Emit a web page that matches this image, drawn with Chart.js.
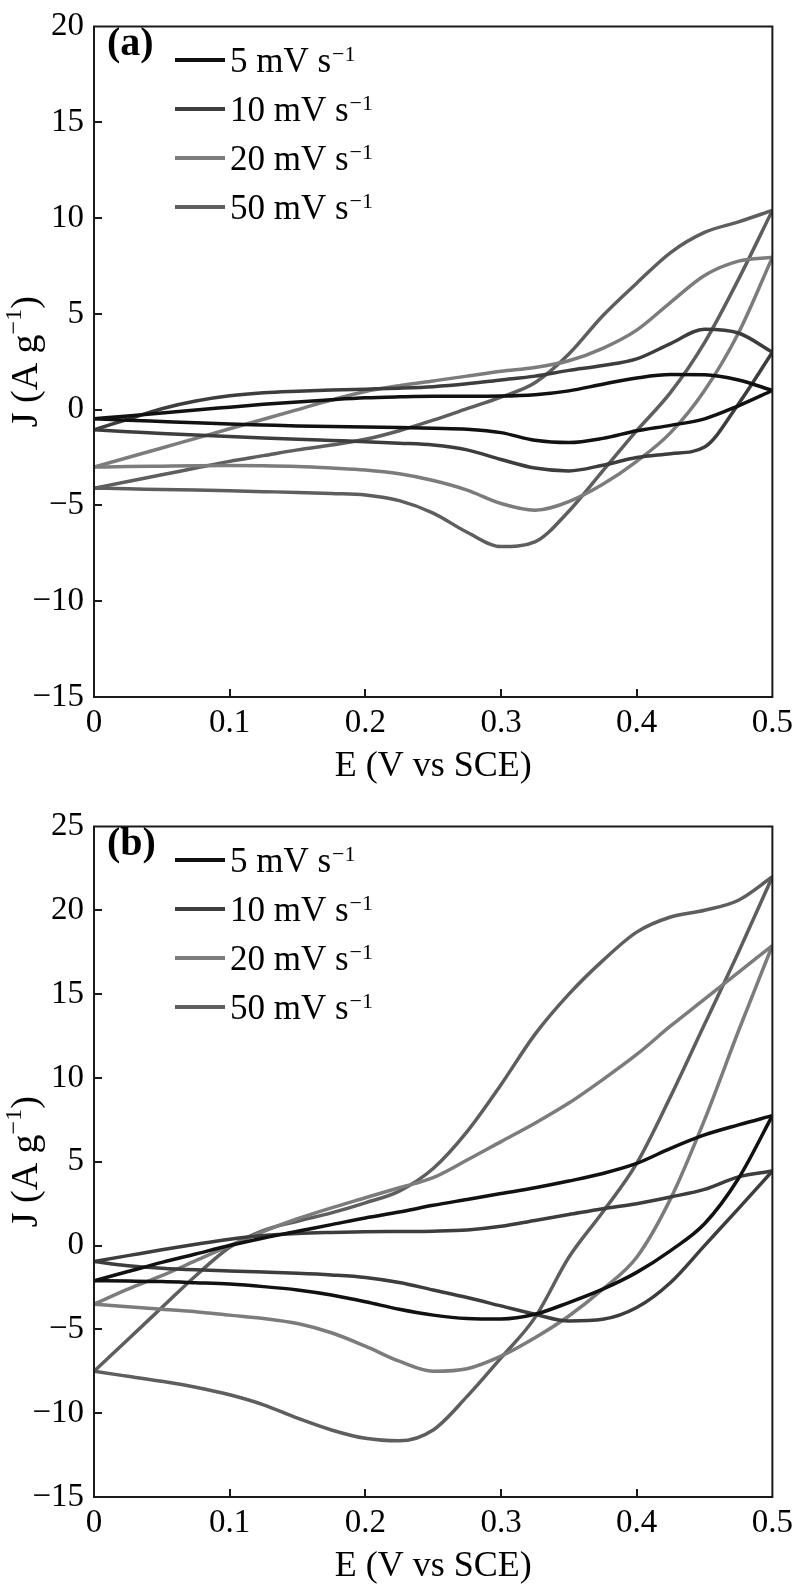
<!DOCTYPE html>
<html>
<head>
<meta charset="utf-8">
<script src="https://cdn.jsdelivr.net/npm/chart.js@4.4.1/dist/chart.umd.min.js"></script>
<style>
  body { margin: 0; background: #fff; }
  canvas { display: block; }
</style>
</head>
<body>
<canvas id="chart-a" width="800" height="800"></canvas>
<canvas id="chart-b" width="800" height="788"></canvas>
<script>
// potential grid (V vs SCE), shared by every branch
const potential = [0, 0.025, 0.05, 0.075, 0.1, 0.125, 0.15, 0.175, 0.2, 0.225, 0.25,
                   0.275, 0.3, 0.325, 0.35, 0.375, 0.4, 0.425, 0.45, 0.475, 0.5];

const scanRates = ["5", "10", "20", "50"];
const lineColors = ["#111111", "#3d3d3d", "#7c7c7c", "#5e5e5e"];

// panel (a) current density, A/g : anodic (forward) and cathodic (reverse) sweeps
const a5Anodic    = [-0.47, -0.33, -0.18, -0.02, 0.13, 0.28, 0.40, 0.52, 0.62, 0.67, 0.70, 0.70, 0.71, 0.78, 0.98, 1.33, 1.65, 1.83, 1.82, 1.55, 1.0];
const a5Cathodic  = [-0.47, -0.55, -0.62, -0.69, -0.75, -0.80, -0.85, -0.88, -0.90, -0.93, -0.97, -1.02, -1.2, -1.6, -1.72, -1.5, -1.1, -0.82, -0.48, 0.2, 1.0];
const a10Anodic   = [-1.05, -0.5, 0.05, 0.45, 0.72, 0.88, 0.96, 1.02, 1.07, 1.12, 1.2, 1.35, 1.55, 1.75, 2.05, 2.3, 2.65, 3.45, 4.2, 4.0, 3.0];
const a10Cathodic = [-1.05, -1.15, -1.25, -1.33, -1.4, -1.48, -1.55, -1.61, -1.67, -1.75, -1.85, -2.1, -2.6, -3.05, -3.2, -2.9, -2.5, -2.3, -1.95, 0.3, 3.0];
const a20Anodic   = [-3.0, -2.5, -2.0, -1.5, -1.0, -0.5, 0.0, 0.5, 0.95, 1.25, 1.5, 1.75, 2.0, 2.2, 2.55, 3.2, 4.15, 5.6, 7.0, 7.75, 7.95];
const a20Cathodic = [-3.0, -2.97, -2.95, -2.93, -2.92, -2.93, -2.97, -3.05, -3.15, -3.35, -3.7, -4.2, -4.9, -5.25, -4.8, -3.9, -2.7, -1.2, 1.0, 4.0, 7.95];
const a50Anodic   = [-4.1, -3.75, -3.4, -3.05, -2.7, -2.4, -2.1, -1.85, -1.55, -1.1, -0.55, 0.05, 0.65, 1.4, 2.9, 4.9, 6.6, 8.2, 9.25, 9.8, 10.4];
const a50Cathodic = [-4.1, -4.13, -4.17, -4.2, -4.24, -4.28, -4.32, -4.38, -4.45, -4.75, -5.4, -6.4, -7.15, -6.9, -5.3, -3.2, -1.1, 0.9, 3.5, 6.8, 10.4];

// panel (b)
const b5Anodic    = [-2.1, -1.55, -1.0, -0.5, 0.0, 0.45, 0.85, 1.25, 1.65, 2.0, 2.4, 2.75, 3.1, 3.45, 3.85, 4.3, 4.9, 5.8, 6.6, 7.2, 7.75];
const b5Cathodic  = [-2.1, -2.12, -2.15, -2.22, -2.3, -2.45, -2.65, -2.95, -3.35, -3.8, -4.15, -4.35, -4.38, -4.1, -3.4, -2.6, -1.6, -0.3, 1.3, 4.0, 7.75];
const b10Anodic   = [-0.95, -0.6, -0.25, 0.08, 0.38, 0.6, 0.72, 0.78, 0.82, 0.84, 0.86, 0.93, 1.15, 1.5, 1.85, 2.2, 2.5, 2.9, 3.35, 4.1, 4.45];
const b10Cathodic = [-0.95, -1.2, -1.35, -1.45, -1.52, -1.58, -1.65, -1.75, -1.9, -2.2, -2.65, -3.1, -3.6, -4.1, -4.5, -4.4, -3.7, -2.2, 0.0, 2.2, 4.45];
const b20Anodic   = [-3.5, -2.6, -1.8, -0.9, 0.0, 0.85, 1.6, 2.25, 2.85, 3.45, 4.05, 5.1, 6.2, 7.3, 8.5, 9.9, 11.4, 13.1, 14.7, 16.3, 17.9];
const b20Cathodic = [-3.5, -3.65, -3.8, -3.95, -4.15, -4.35, -4.65, -5.2, -6.0, -6.9, -7.5, -7.35, -6.6, -5.5, -4.2, -2.6, -0.7, 2.8, 7.5, 12.8, 17.9];
const b50Anodic   = [-7.5, -5.6, -3.7, -1.8, -0.1, 0.9, 1.45, 1.95, 2.55, 3.25, 4.6, 6.8, 9.6, 12.6, 15.0, 17.0, 18.7, 19.6, 20.0, 20.6, 22.0];
const b50Cathodic = [-7.5, -7.8, -8.1, -8.45, -8.9, -9.5, -10.3, -11.0, -11.5, -11.65, -11.0, -9.0, -6.7, -4.3, -0.7, 2.0, 4.9, 8.9, 13.2, 17.5, 22.0];

const serif = "'Liberation Serif', 'Times New Roman', serif";

function toPoints(values) {
    return values.map((j, i) => ({ x: potential[i], y: j }));
}

function minusSign(v) {
    return String(v).replace("-", "\u2212");
}

// frame, inward ticks, legend, panel letter and y title
const decorPlugin = {
    id: "decor",
    afterDraw(chart) {
        const ctx = chart.ctx;
        const area = chart.chartArea;
        const xs = chart.scales.x;
        const ys = chart.scales.y;
        const opts = chart.options.plugins.decor;

        ctx.save();
        ctx.strokeStyle = "#1a1a1a";
        ctx.lineWidth = 2;
        ctx.strokeRect(area.left, area.top, area.right - area.left, area.bottom - area.top);

        ctx.beginPath();
        xs.ticks.forEach((t) => {
            if (t.value <= xs.min + 1e-9 || t.value >= xs.max - 1e-9) return;
            const px = Math.round(xs.getPixelForValue(t.value));
            ctx.moveTo(px, area.bottom);
            ctx.lineTo(px, area.bottom - 8);
        });
        ys.ticks.forEach((t) => {
            if (t.value <= ys.min || t.value >= ys.max) return;
            const py = Math.round(ys.getPixelForValue(t.value));
            ctx.moveTo(area.left, py);
            ctx.lineTo(area.left + 8, py);
        });
        ctx.stroke();

        // panel letter
        ctx.fillStyle = "#000";
        ctx.textBaseline = "alphabetic";
        ctx.textAlign = "left";
        ctx.font = "bold 40px " + serif;
        ctx.fillText(opts.letter, 107, 55);

        // legend
        scanRates.forEach((rate, i) => {
            const y = 60 + i * 49;
            ctx.strokeStyle = lineColors[i];
            ctx.lineWidth = 4;
            ctx.beginPath();
            ctx.moveTo(175, y);
            ctx.lineTo(225, y);
            ctx.stroke();
            ctx.font = "35px " + serif;
            const label = rate + " mV s";
            ctx.fillText(label, 230, y + 12);
            const w = ctx.measureText(label).width;
            ctx.font = "22px " + serif;
            ctx.fillText("\u22121", 230 + w + 1, y + 1);
        });

        // y axis title with superscript
        ctx.translate(27, (area.top + area.bottom) / 2);
        ctx.rotate(-Math.PI / 2);
        ctx.textBaseline = "middle";
        const big = "38px " + serif;
        const small = "24px " + serif;
        ctx.font = big;
        const p1 = "J (A g";
        const w1 = ctx.measureText(p1).width;
        const w3 = ctx.measureText(")").width;
        ctx.font = small;
        const w2 = ctx.measureText("\u22121").width;
        let x = -(w1 + w2 + w3) / 2;
        ctx.font = big;
        ctx.fillText(p1, x, 0);
        x += w1;
        ctx.font = small;
        ctx.fillText("\u22121", x, -12);
        x += w2;
        ctx.font = big;
        ctx.fillText(")", x, 0);
        ctx.restore();
    },
};

function makeChart(canvasId, letter, series, yMax, titlePad) {
    const canvas = document.getElementById(canvasId);
    const datasets = [];
    series.forEach((branches, i) => {
        branches.forEach((values) => {
            datasets.push({
                label: scanRates[i] + " mV s-1",
                data: toPoints(values),
                borderColor: lineColors[i],
                borderWidth: 3.5,
                pointRadius: 0,
                fill: false,
                cubicInterpolationMode: "monotone",
            });
        });
    });

    return new Chart(canvas, {
        type: "line",
        data: { datasets: datasets },
        options: {
            responsive: false,
            animation: false,
            devicePixelRatio: 1,
            layout: { padding: { left: 0, right: 26, top: 17, bottom: 0 } },
            plugins: {
                legend: { display: false },
                tooltip: { enabled: false },
                decor: { letter: letter },
            },
            scales: {
                x: {
                    type: "linear",
                    min: 0,
                    max: 0.5,
                    grid: { display: false, drawTicks: false },
                    border: { display: false },
                    ticks: {
                        stepSize: 0.1,
                        padding: 7,
                        color: "#000",
                        font: { family: serif, size: 33 },
                        maxRotation: 0,
                        callback: (v) => (v === 0 ? "0" : Number(v).toFixed(1)),
                    },
                    title: {
                        display: true,
                        text: "E (V vs SCE)",
                        color: "#000",
                        font: { family: serif, size: 36 },
                        padding: { top: 0, bottom: titlePad },
                    },
                    afterFit: (s) => { s.height = canvas.height - 17 - 680; },
                },
                y: {
                    min: -15,
                    max: yMax,
                    grid: { display: false, drawTicks: false },
                    border: { display: false },
                    ticks: {
                        stepSize: 5,
                        padding: 10,
                        color: "#000",
                        font: { family: serif, size: 33, lineHeight: 1 },
                        callback: (v) => minusSign(v),
                    },
                    afterFit: (s) => { s.width = 94; },
                },
            },
        },
        plugins: [decorPlugin],
    });
}

makeChart("chart-a", "(a)", [
    [a5Anodic, a5Cathodic],
    [a10Anodic, a10Cathodic],
    [a20Anodic, a20Cathodic],
    [a50Anodic, a50Cathodic],
], 20, 12);

makeChart("chart-b", "(b)", [
    [b5Anodic, b5Cathodic],
    [b10Anodic, b10Cathodic],
    [b20Anodic, b20Cathodic],
    [b50Anodic, b50Cathodic],
], 25, 0);
</script>
</body>
</html>
